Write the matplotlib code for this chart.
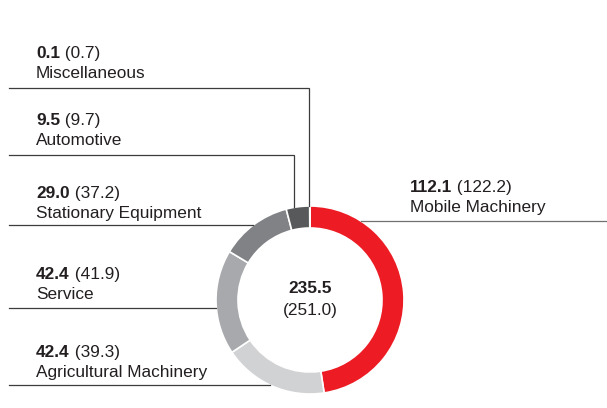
import numpy as np
import matplotlib
matplotlib.use("Agg")
import matplotlib.pyplot as plt

# segment data, clockwise from 12 o'clock
segments = ["Mobile Machinery", "Agricultural Machinery", "Service",
            "Stationary Equipment", "Automotive", "Miscellaneous"]
values_now = [112.1, 42.4, 42.4, 29.0, 9.5, 0.1]
values_prev = [122.2, 39.3, 41.9, 37.2, 9.7, 0.7]
total_now = "235.5"
total_prev = "(251.0)"
colors = ["#ED1C24", "#D1D2D4", "#A7A9AC", "#808285", "#58595B", "#3A3A3C"]

plt.rcParams['font.family'] = ['Liberation Sans', 'DejaVu Sans']
TXT = "#231F20"
LINE = "#3C3C3C"
FS = 12.4

W, H = 607, 408
fig = plt.figure(figsize=(W / 100, H / 100), dpi=100)
ax = fig.add_axes([0, 0, 1, 1])

cx, cy, R = 310, 300, 94   # donut centre and outer radius
# y axis is flipped below, so start at -90 and go "counterclockwise" to look clockwise from top
ax.pie(values_now, colors=colors, startangle=-90, counterclock=True,
       center=(cx, cy), radius=R, frame=True,
       wedgeprops=dict(width=22, edgecolor='white', linewidth=1.2))
ax.set_xlim(0, W)
ax.set_ylim(H, 0)          # pixel coords, y downwards
ax.set_aspect('equal')
ax.axis('off')

ax.text(cx, 293, total_now, ha='center', va='baseline', fontsize=FS,
        fontweight='bold', color=TXT)
ax.text(cx, 315, total_prev, ha='center', va='baseline', fontsize=FS, color=TXT)


def label(x, y, i):
    b = ax.text(x, y, f"{values_now[i]:.1f}", fontsize=FS, fontweight='bold',
                color=TXT, va='baseline')
    ax.annotate(f" ({values_prev[i]:.1f})", xy=(1, 0), xycoords=b,
                fontsize=FS, color=TXT, va='bottom', ha='left')
    ax.text(x, y + 20, segments[i], fontsize=FS, color=TXT, va='baseline')


def edge_x(y, side):
    dy = y - cy
    return cx + side * np.sqrt(R ** 2 - dy ** 2)


# left side labels: (index, text baseline, line y)
left = [(5, 58, 88), (4, 125, 155), (3, 198, 225), (2, 279, 308), (1, 357, 385)]
for i, ty, ly in left:
    label(36, ty, i)

# misc and automotive lines drop down to the top of the ring
for i, ty, ly in left[:2]:
    vx = 309 if i == 5 else 294
    ax.plot([9, vx, vx], [ly, ly, cy - np.sqrt(R ** 2 - (vx - cx) ** 2)],
            color=LINE, lw=0.9, solid_joinstyle='miter')
for i, ty, ly in left[2:]:
    ax.plot([9, edge_x(ly, -1)], [ly, ly], color=LINE, lw=0.9)

# mobile machinery on the right
label(410, 192, 0)
ax.plot([edge_x(221, 1), W], [221, 221], color="#707070", lw=0.9)

fig.savefig("out.png", dpi=100, facecolor='white')
